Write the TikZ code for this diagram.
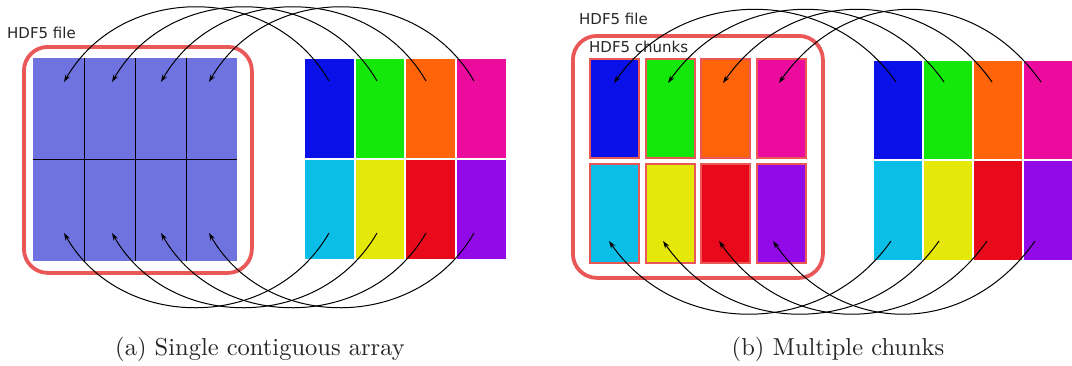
\documentclass[tikz,border=0pt]{standalone}
\usepackage{fontspec}
\newfontfamily\dejavu{DejaVu Sans}
\newfontfamily\capfont[Extension=.otf]{lmroman10-regular}
\usetikzlibrary{arrows.meta}
\definecolor{boxred}{RGB}{234,87,87}
\definecolor{arrblue}{RGB}{111,115,224}
\definecolor{cA}{RGB}{10,16,232}
\definecolor{cB}{RGB}{20,232,10}
\definecolor{cC}{RGB}{255,100,10}
\definecolor{cD}{RGB}{235,12,158}
\definecolor{cE}{RGB}{10,190,232}
\definecolor{cF}{RGB}{230,232,10}
\definecolor{cG}{RGB}{232,10,26}
\definecolor{cH}{RGB}{147,10,232}
\begin{document}
\begin{tikzpicture}[x=1pt,y=-1pt,
  lbl/.style={anchor=west, inner sep=0pt, font=\dejavu\fontsize{15}{17}\selectfont, text=black!85},
  captext/.style={inner sep=0pt, font=\capfont\fontsize{24.5}{28}\selectfont, text=black!85},
  cellbox/.style={draw=white, line width=1.2pt, anchor=north west, inner sep=0pt, outer sep=0pt},
  chunkbox/.style={draw=boxred, line width=2pt, anchor=north west, inner sep=0pt, outer sep=0pt, minimum width=49pt, minimum height=99pt},
  filebox/.style={draw=boxred, line width=3.8pt, rounded corners=24pt},
  arr/.style={line width=1pt, -{Stealth[length=7.5pt,width=5pt]}}]
\useasboundingbox (0,0) rectangle (1072,365);

% ---------------- panel (a) ----------------
\node[anchor=north west, fill=arrblue, minimum width=204pt, minimum height=203pt, inner sep=0pt, outer sep=0pt] (arr) at (33,58) {};
\draw[line width=1pt] (84,58) -- (84,261) (135,58) -- (135,261) (186,58) -- (186,261) (33,159) -- (237,159);
\node[filebox, minimum width=228pt, minimum height=226pt, anchor=north west, inner sep=0pt] (fileA) at (22,45) {};
\node[lbl] (fileAlbl) at (7,33) {HDF5 file};

\foreach \c/\x/\y in {cA/304/58, cB/355/58, cC/405/58, cD/456/58, cE/304/159, cF/355/159, cG/405/159, cH/456/159}
  \node[cellbox, fill=\c, minimum width=51pt, minimum height=101pt] (ga-\c) at (\x,\y) {};

\foreach \i/\sx/\tx in {1/329/64, 2/377/112, 3/426/161, 4/474/209}{
  \coordinate (sta\i) at (\sx,81);
  \coordinate (tta\i) at (\tx,82);
  \coordinate (sba\i) at (\sx,233);
  \coordinate (tba\i) at (\tx,233);
}
\foreach \i in {1,...,4}{
  \draw[arr] (sta\i) .. controls +(-57,-99) and +(57,-99) .. (tta\i);
  \draw[arr] (sba\i) .. controls +(-57,99) and +(57,99) .. (tba\i);
}
\node[captext] (capA) at (260,349) {(a)\ Single contiguous array};

% ---------------- panel (b) ----------------
\node[filebox, minimum width=250pt, minimum height=242pt, anchor=north west, inner sep=0pt] (fileB) at (571,34) {};
\node[lbl] (fileBlbl) at (579,19) {HDF5 file};

\foreach \c/\x/\y in {cA/590/59, cB/646/59, cC/701/59, cD/757/59, cE/590/164, cF/646/164, cG/701/164, cH/757/164}
  \node[chunkbox, fill=\c] (ch-\c) at (\x,\y) {};
\node[lbl] (chunkslbl) at (589,47) {HDF5 chunks};

\foreach \c/\x/\y in {cA/873/60, cB/923/60, cC/973/60, cD/1023/60, cE/873/160, cF/923/160, cG/973/160, cH/1023/160}
  \node[cellbox, fill=\c, minimum width=50pt, minimum height=101pt] (gb-\c) at (\x,\y) {};

\foreach \i/\sx/\tx/\bx/\bt in {1/896/614/891/609, 2/944/668/939/663, 3/992/723/987/719, 4/1041/779/1035/773}{
  \coordinate (stb\i) at (\sx,82);
  \coordinate (ttb\i) at (\tx,83);
  \coordinate (sbb\i) at (\bx,241);
  \coordinate (tbb\i) at (\bt,241);
}
\foreach \i in {1,...,4}{
  \draw[arr] (stb\i) .. controls +(-68,-97) and +(68,-97) .. (ttb\i);
  \draw[arr] (sbb\i) .. controls +(-68,97) and +(68,97) .. (tbb\i);
}
\node[captext] (capB) at (838,349) {(b)\ Multiple chunks};
\end{tikzpicture}
\end{document}
